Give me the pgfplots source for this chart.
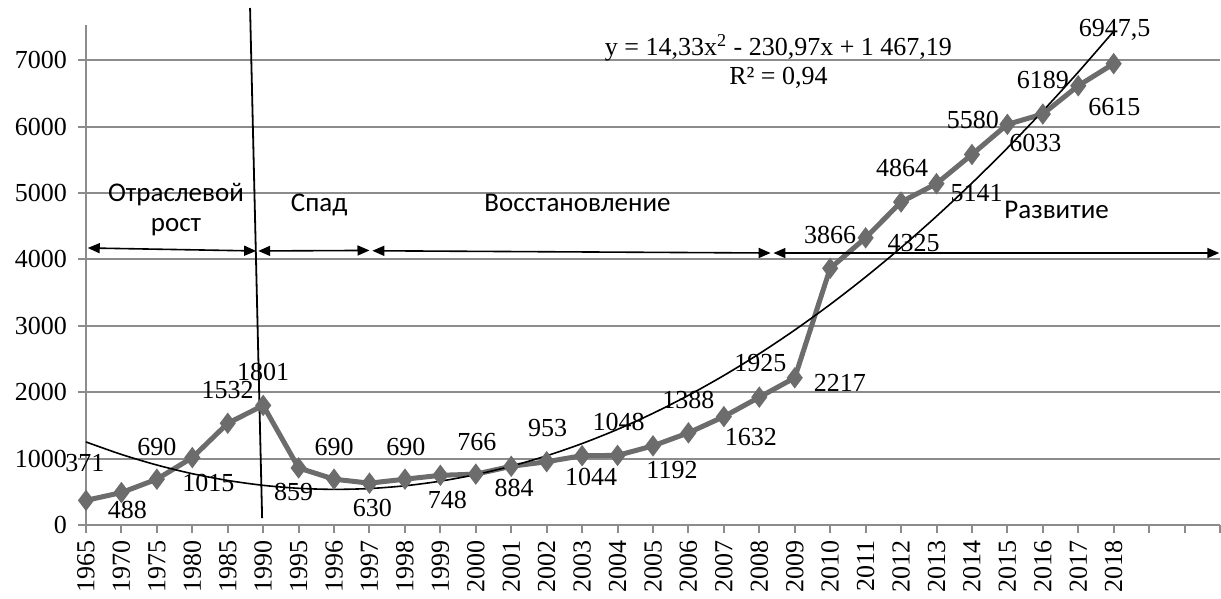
\documentclass[border=0pt]{standalone}
\usepackage{fontspec}
\setmainfont{Liberation Serif}
\newfontfamily\sansf{Carlito}
\usepackage{pgfplots}
\pgfplotsset{compat=1.18}
\usetikzlibrary{arrows.meta}
\definecolor{sergray}{RGB}{108,108,108}
\definecolor{gridgray}{RGB}{140,140,140}
\pgfplotstableread{
x y
0 371
1 488
2 690
3 1015
4 1532
5 1801
6 859
7 690
8 630
9 690
10 748
11 766
12 884
13 953
14 1044
15 1048
16 1192
17 1388
18 1632
19 1925
20 2217
21 3866
22 4325
23 4864
24 5141
25 5580
26 6033
27 6189
28 6615
29 6947.5
}\datatable
\pgfplotstableread{
x y
0 1250.55
1 1062.57
2 903.25
3 772.59
4 670.59
5 597.25
6 552.57
7 536.55
8 549.19
9 590.49
10 660.45
11 759.07
12 886.35
13 1042.29
14 1226.89
15 1440.15
16 1682.07
17 1952.65
18 2251.89
19 2579.79
20 2936.35
21 3321.57
22 3735.45
23 4177.99
24 4649.19
25 5149.05
26 5677.57
27 6234.75
28 6820.59
29 7435.09
}\trendtable
\begin{document}
\begin{tikzpicture}[font=\fontsize{13}{15}\selectfont]
\begin{axis}[
 scale only axis, width=567pt, height=250pt,
 xmin=0, xmax=32, ymin=0, ymax=7530,
 axis x line=bottom, axis y line=left,
 axis line style={gridgray, line width=1pt, -},
 xtick={0,...,32},
 xticklabels={\textrm{1965},\textrm{1970},\textrm{1975},\textrm{1980},\textrm{1985},\textrm{1990},\textrm{1995},\textrm{1996},\textrm{1997},\textrm{1998},\textrm{1999},\textrm{2000},\textrm{2001},\textrm{2002},\textrm{2003},\textrm{2004},\textrm{2005},\textrm{2006},\textrm{2007},\textrm{2008},\textrm{2009},\textrm{2010},\textrm{2011},\textrm{2012},\textrm{2013},\textrm{2014},\textrm{2015},\textrm{2016},\textrm{2017},\textrm{2018},{},{},{}},
 x tick label style={rotate=90, anchor=east, font=\rmfamily\fontsize{13}{15}\selectfont},
 ytick={0,1000,...,7000},
 yticklabel={\textrm{\pgfmathprintnumber[assume math mode=true,1000 sep={}]{\tick}}},
 y tick label style={font=\rmfamily\fontsize{13}{15}\selectfont, xshift=-2pt},
 ymajorgrids, grid style={gridgray, line width=1pt},
 tick style={gridgray, line width=1pt},
 tick align=outside, major tick length=4pt,
 clip=false,
]
\addplot[sergray, line width=2.5pt, mark=diamond*, mark size=3.3pt] table[x=x,y=y] {\datatable};
\addplot[black, line width=0.8pt, smooth, no marks] table[x=x,y=y] {\trendtable};
\coordinate (bl) at (rel axis cs:0,0);
% phase separator and arrows
\draw[black, line width=0.9pt] (axis cs:4.63,7786) -- (axis cs:4.97,105);
\draw[black, line width=0.8pt, {Triangle[length=6pt,width=5pt]}-{Triangle[length=6pt,width=5pt]}] (axis cs:0.05,4172) -- (axis cs:4.8,4127);
\draw[black, line width=0.8pt, {Triangle[length=6pt,width=5pt]}-{Triangle[length=6pt,width=5pt]}] (axis cs:4.86,4127) -- (axis cs:8.0,4135);
\draw[black, line width=0.8pt, {Triangle[length=6pt,width=5pt]}-{Triangle[length=6pt,width=5pt]}] (axis cs:8.08,4130) -- (axis cs:19.32,4096);
\draw[black, line width=0.8pt, {Triangle[length=6pt,width=5pt]}-{Triangle[length=6pt,width=5pt]}] (axis cs:19.4,4096) -- (axis cs:31.98,4096);
\node[font=\sansf\fontsize{13.5}{15}\selectfont] at (axis cs:2.54,4970) {Отраслевой};
\node[font=\sansf\fontsize{13.5}{15}\selectfont] at (axis cs:2.54,4488) {рост};
\node[font=\sansf\fontsize{13.5}{15}\selectfont] at (axis cs:6.58,4819) {Спад};
\node[font=\sansf\fontsize{13.5}{15}\selectfont] at (axis cs:13.87,4849) {Восстановление};
\node[font=\sansf\fontsize{13.5}{15}\selectfont] at (axis cs:27.39,4744) {Развитие};
\node at (axis cs:19.54,7184) {y = 14,33x\textsuperscript{2} - 230,97x + 1 467,19};
\node at (axis cs:19.54,6732) {R² = 0,94};
% data labels
\node[xshift=-0.5pt,yshift=18.5pt] at (axis cs:0,371) {371};
\node[xshift=3pt,yshift=-8.5pt] at (axis cs:1,488) {488};
\node[xshift=0pt,yshift=16pt] at (axis cs:2,690) {690};
\node[xshift=8pt,yshift=-12.5pt] at (axis cs:3,1015) {1015};
\node[xshift=0pt,yshift=16.5pt] at (axis cs:4,1532) {1532};
\node[xshift=0pt,yshift=16.5pt] at (axis cs:5,1801) {1801};
\node[xshift=-2.5pt,yshift=-12pt] at (axis cs:6,859) {859};
\node[xshift=0pt,yshift=16pt] at (axis cs:7,690) {690};
\node[xshift=1.5pt,yshift=-12.5pt] at (axis cs:8,630) {630};
\node[xshift=0.5pt,yshift=16pt] at (axis cs:9,690) {690};
\node[xshift=3.5pt,yshift=-12.5pt] at (axis cs:10,748) {748};
\node[xshift=0.5pt,yshift=16pt] at (axis cs:11,766) {766};
\node[xshift=1.5pt,yshift=-11pt] at (axis cs:12,884) {884};
\node[xshift=0.5pt,yshift=17pt] at (axis cs:13,953) {953};
\node[xshift=4.5pt,yshift=-10.5pt] at (axis cs:14,1044) {1044};
\node[xshift=0.5pt,yshift=16.5pt] at (axis cs:15,1048) {1048};
\node[xshift=9.5pt,yshift=-12pt] at (axis cs:16,1192) {1192};
\node[xshift=0pt,yshift=16.5pt] at (axis cs:17,1388) {1388};
\node[xshift=13.5pt,yshift=-10pt] at (axis cs:18,1632) {1632};
\node[xshift=0.5pt,yshift=17pt] at (axis cs:19,1925) {1925};
\node[xshift=22.5pt,yshift=-2.5pt] at (axis cs:20,2217) {2217};
\node[xshift=0pt,yshift=16.5pt] at (axis cs:21,3866) {3866};
\node[xshift=24pt,yshift=-2.5pt] at (axis cs:22,4325) {4325};
\node[xshift=0.5pt,yshift=17pt] at (axis cs:23,4864) {4864};
\node[xshift=20pt,yshift=-4.5pt] at (axis cs:24,5141) {5141};
\node[xshift=0.5pt,yshift=17pt] at (axis cs:25,5580) {5580};
\node[xshift=14pt,yshift=-9.5pt] at (axis cs:26,6033) {6033};
\node[xshift=0pt,yshift=17pt] at (axis cs:27,6189) {6189};
\node[xshift=18pt,yshift=-10.5pt] at (axis cs:28,6615) {6615};
\node[xshift=0.5pt,yshift=17pt] at (axis cs:29,6947.5) {6947,5};
\end{axis}
\pgfresetboundingbox
\path (bl) ++(-43pt,-37pt) rectangle ++(610.5pt,299.5pt);
\end{tikzpicture}
\end{document}
